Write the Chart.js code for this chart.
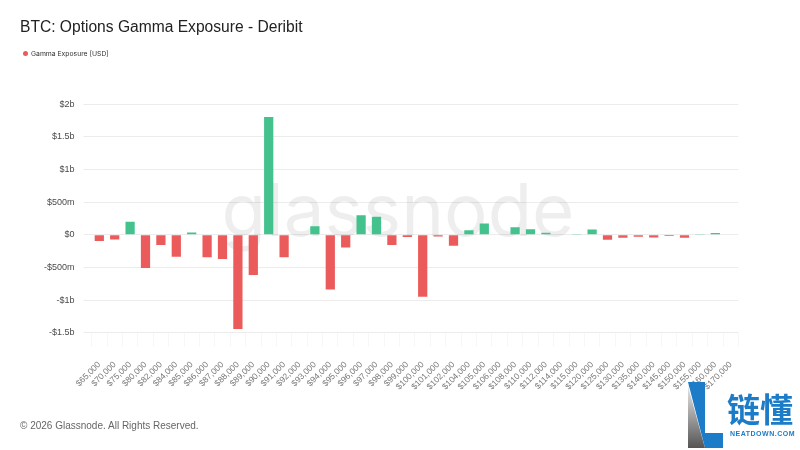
<!DOCTYPE html>
<html>
<head>
<meta charset="utf-8">
<script src="https://cdn.jsdelivr.net/npm/chart.js@4.4.1/dist/chart.umd.min.js"></script>
<style>
  html,body{margin:0;padding:0;background:#fff;}
  #wrap{position:relative;width:800px;height:450px;overflow:hidden;background:#fff;}
  #c{position:absolute;left:0;top:0;}
  #title{position:absolute;left:20px;top:18px;font-family:"Liberation Sans",Arial,sans-serif;font-size:15.6px;color:#222;white-space:nowrap;}
  #legend{position:absolute;left:23px;top:49px;font-family:Inter,"Noto Sans",sans-serif;font-size:6.8px;color:#333;white-space:nowrap;}
  #legend .dot{display:inline-block;width:5px;height:5px;border-radius:50%;background:#ec5b5b;margin-right:3px;vertical-align:middle;position:relative;top:-1px;}
  #footer{position:absolute;left:20px;top:420px;font-family:"Liberation Sans",Arial,sans-serif;font-size:10px;color:#666;white-space:nowrap;}
  #logo{position:absolute;left:686px;top:380px;width:114px;height:70px;}
  #logoText{position:absolute;left:727px;top:392px;font-family:"Noto Sans CJK SC",sans-serif;font-size:33px;font-weight:700;color:#1c7cc7;line-height:1;white-space:nowrap;}
  #logoSub{position:absolute;left:730px;top:430px;font-family:"Liberation Sans",Arial,sans-serif;font-size:7px;font-weight:700;letter-spacing:0.5px;color:#1c7cc7;white-space:nowrap;}
</style>
</head>
<body>
<div id="wrap">
  <canvas id="c" width="800" height="450"></canvas>
  <div id="title">BTC: Options Gamma Exposure - Deribit</div>
  <div id="legend"><span class="dot"></span>Gamma Exposure [USD]</div>
  <div id="footer">© 2026 Glassnode. All Rights Reserved.</div>
  <svg id="logo" width="114" height="70" viewBox="0 0 114 70">
    <defs>
      <linearGradient id="gg" x1="0" y1="0" x2="0" y2="1">
        <stop offset="0" stop-color="#e6e6e6"/>
        <stop offset="1" stop-color="#555"/>
      </linearGradient>
    </defs>
    <polygon points="2,2 19,2 19,53 37,53 37,68 19,68" fill="#1c7cc7"/>
    <polygon points="2,6 19,68 2,68" fill="url(#gg)"/>
  </svg>
  <div id="logoText">链懂</div>
  <div id="logoSub">NEATDOWN.COM</div>
</div>
<script>
const categories = ["$65,000","$70,000","$75,000","$80,000","$82,000","$84,000","$85,000","$86,000","$87,000","$88,000","$89,000","$90,000","$91,000","$92,000","$93,000","$94,000","$95,000","$96,000","$97,000","$98,000","$99,000","$100,000","$101,000","$102,000","$104,000","$105,000","$106,000","$108,000","$110,000","$112,000","$114,000","$115,000","$120,000","$125,000","$130,000","$135,000","$140,000","$145,000","$150,000","$155,000","$160,000","$170,000"];
// Gamma exposure in millions of USD
const gammaExposureM = [-95,-72,200,-510,-158,-335,35,-342,-372,-1444,-615,1806,-342,8,133,-837,-194,301,276,-158,-35,-949,-25,-168,71,173,0,117,87,32,0,4,82,-75,-45,-30,-40,-18,-45,4,28,0];
const yTicks = [-1.5e9,-1e9,-5e8,0,5e8,1e9,1.5e9,2e9];

const values = gammaExposureM.map(v => v * 1e6);
const GREEN = '#43c28e', RED = '#ec5b5b';
const colors = values.map(v => v >= 0 ? GREEN : RED);

function fmt(v){
  if (v === 0) return '$0';
  const s = v < 0 ? '-' : '';
  const a = Math.abs(v);
  if (a >= 1e9) return s + '$' + (+(a/1e9).toFixed(2)) + 'b';
  return s + '$' + (+(a/1e6).toFixed(2)) + 'm';
}

const watermark = {
  id: 'watermark',
  beforeDatasetsDraw(chart){
    const ctx = chart.ctx;
    ctx.save();
    let size = 70;
    ctx.font = '400 ' + size + 'px Inter, "Noto Sans", sans-serif';
    const w = ctx.measureText('glassnode').width;
    size = size * 353 / w;
    ctx.font = '400 ' + size + 'px Inter, "Noto Sans", sans-serif';
    ctx.fillStyle = 'rgba(0,0,0,0.065)';
    ctx.textAlign = 'center';
    ctx.textBaseline = 'alphabetic';
    ctx.fillText('glassnode', 398, 236);
    ctx.restore();
  }
};

new Chart(document.getElementById('c'), {
  type: 'bar',
  data: {
    labels: categories,
    datasets: [{
      label: 'Gamma Exposure [USD]',
      data: values,
      backgroundColor: colors,
      borderWidth: 0,
      barPercentage: 0.6,
      categoryPercentage: 1.0
    }]
  },
  options: {
    responsive: false,
    animation: false,
    layout: { padding: { left: 0, right: 61.6, top: 104.3, bottom: 0 } },
    plugins: { legend: { display: false }, tooltip: { enabled: false }, title: { display: false } },
    scales: {
      x: {
        offset: true,
        afterFit(scale){ scale.height = 117.3; },
        grid: { display: true, drawOnChartArea: false, drawTicks: true, tickLength: 14, color: '#f7f7f7' },
        border: { display: false },
        ticks: {
          autoSkip: false, maxRotation: 45, minRotation: 45, padding: 13,
          color: '#777', font: { family: '"Liberation Sans", Arial, sans-serif', size: 8.5 }
        }
      },
      y: {
        min: -1.5e9, max: 2e9,
        afterFit(scale){ scale.width = 91.6; },
        afterBuildTicks(scale){ scale.ticks = yTicks.map(v => ({ value: v })); },
        grid: { color: '#ececec', tickLength: 8, lineWidth: 1 },
        border: { display: false },
        ticks: {
          padding: 9, color: '#4a4a4a',
          font: { family: '"Liberation Sans", Arial, sans-serif', size: 9 },
          callback: (v) => fmt(v)
        }
      }
    }
  },
  plugins: [watermark]
});
</script>
</body>
</html>
